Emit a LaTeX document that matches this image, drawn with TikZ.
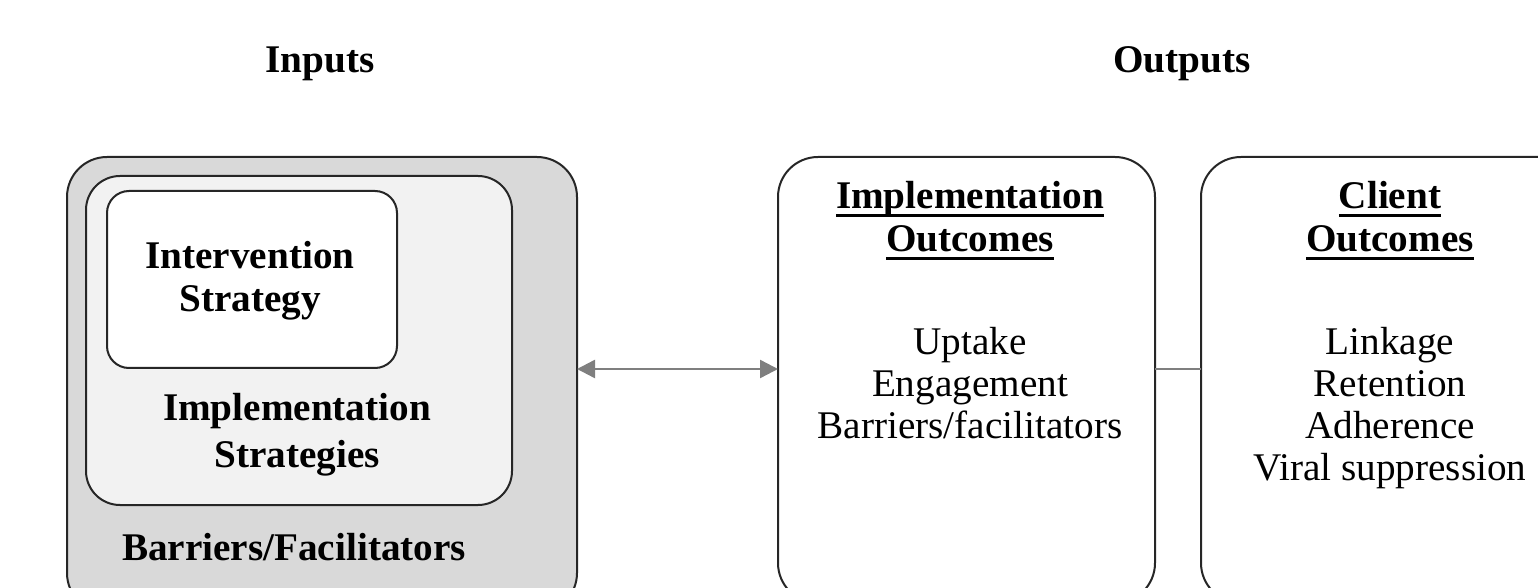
\documentclass[tikz,border=0pt]{standalone}
\usepackage{fontspec}
\setmainfont{Liberation Serif}
\usetikzlibrary{positioning,arrows.meta}
\definecolor{outerfill}{HTML}{D9D9D9}
\definecolor{midfill}{HTML}{F2F2F2}
\definecolor{linkgray}{HTML}{7F7F7F}
\tikzset{font=\fontsize{19.6}{21}\selectfont}
\tikzset{
  box/.style={draw=black!85, line width=1pt, inner sep=0pt, outer sep=0pt},
  link/.style={draw=linkgray, line width=1.2pt},
  head/.style={font=\fontsize{19.6}{21.5}\selectfont\bfseries},
}
\newcommand{\ulhead}[1]{\setbox0\hbox{#1}\rlap{\rule[-4.2pt]{\wd0}{1.6pt}}\box0}

\begin{document}
\begin{tikzpicture}[x=0.5pt, y=-0.5pt]
	\useasboundingbox (0,0) rectangle (1538,588);
	\clip (0,0) rectangle (1538,588);
	\begin{scope}
		\tikzstyle{every node}=[align=center, inner sep=1pt]
		% boxes
		\node[box, fill=outerfill, rounded corners=20pt, minimum width=255pt, minimum height=228pt] (bf) at (322, 385) {};
		\node[box, fill=midfill, rounded corners=17pt, minimum width=213pt, minimum height=164.5pt] (is) at (299, 340.5) {};
		\node[box, fill=white, rounded corners=11pt, minimum width=145pt, minimum height=88.5pt] (iv) at (252, 279.5) {};
		\node[box, rounded corners=20pt, minimum width=188.5pt, minimum height=223pt] (io) at (966.5, 380) {};
		\node[box, rounded corners=20pt, minimum width=189pt, minimum height=223pt] (co) at (1390, 380) {};

		% headings
		\node[head] (inp) at (320, 64) {Inputs};
		\node[head] (outp) at (1182, 64) {Outputs};

		% labels
		\node[head] (ivtext) at (250, 281) {Intervention\\Strategy};
		\node[head, font=\fontsize{19.6}{23.5}\selectfont\bfseries] (istext) at (297, 435) {Implementation\\Strategies};
		\node[head] (bftext) at (294, 547) {Barriers/Facilitators};
		\node[head] (iohead) at (970, 221) {\ulhead{Implementation}\\\ulhead{Outcomes}};
		\node (iolist) at (970, 383) {Uptake\\Engagement\\Barriers/facilitators};
		\node[head] (cohead) at (1390, 221) {\ulhead{Client}\\\ulhead{Outcomes}};
		\node (colist) at (1390, 408) {Linkage\\Retention\\Adherence\\Viral suppression};

		% connectors
		\coordinate (mid) at (0, 369);
		\draw[link, {Triangle[length=9pt,width=9pt]}-{Triangle[length=9pt,width=9pt]}] (bf.east |- mid) -- (io.west |- mid);
		\draw[link] (io.east |- mid) -- (co.west |- mid);
	\end{scope}
\end{tikzpicture}
\end{document}
